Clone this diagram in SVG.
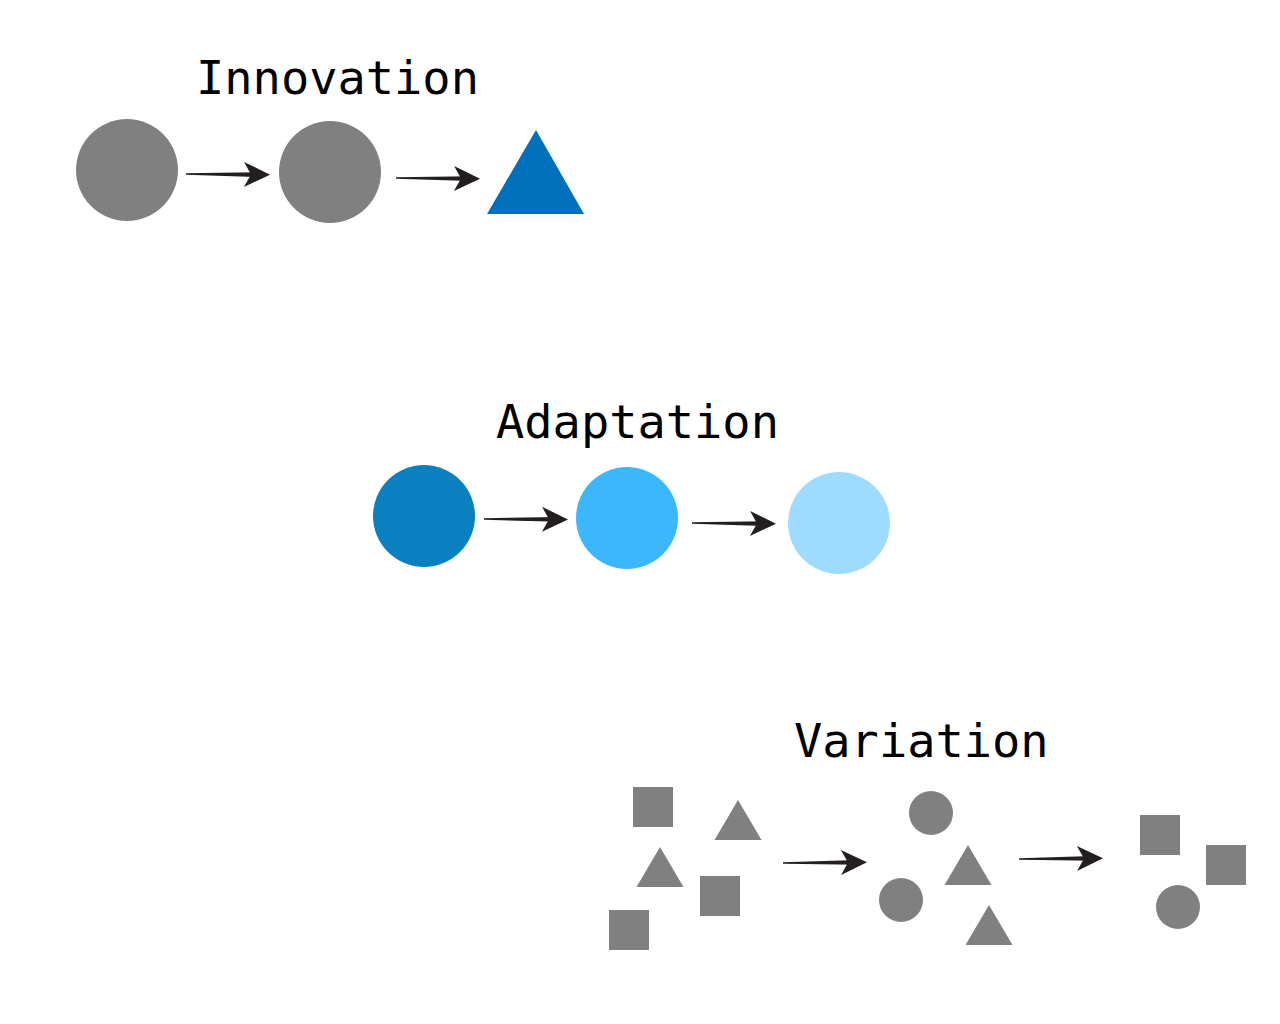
<svg xmlns="http://www.w3.org/2000/svg" xmlns:xlink="http://www.w3.org/1999/xlink" width="1280" height="1024" viewBox="0 0 1280 1024">
<style>
.label{font-family:"DejaVu Sans Mono","Liberation Mono",monospace;font-size:47px;fill:#000}
.g{fill:#808080}
.arr{fill:#231f20}
</style>
<defs>
<g id="arrow" class="arr">
<path d="M0,-0.7 L74,-2.4 L74,2.4 L0,0.7 Z"/>
<path d="M84,0 L58,12.5 L65,0 L58,-12.5 Z"/>
</g>
<polygon id="tri" points="0,0 23.5,40 -23.5,40" class="g"/>
</defs>
<rect width="1280" height="1024" fill="#fff"/>

<g id="innovation">
<text class="label" x="196" y="94">Innovation</text>
<circle cx="127" cy="170" r="51" class="g"/>
<circle cx="330" cy="172" r="51" class="g"/>
<polygon points="536,130 584,214 487,214" fill="#0070bc"/>
</g>

<g id="adaptation">
<text class="label" x="496" y="438">Adaptation</text>
<circle cx="424" cy="516" r="51" fill="#0a80c0"/>
<circle cx="627" cy="518" r="51" fill="#3bb8fd"/>
<circle cx="839" cy="523" r="51" fill="#9fdbff"/>
</g>

<g id="variation">
<text class="label" x="794" y="757">Variation</text>
<g id="var-group1">
<rect x="633" y="787" width="40" height="40" class="g"/>
<use xlink:href="#tri" x="738" y="800"/>
<use xlink:href="#tri" x="660" y="847"/>
<rect x="700" y="876" width="40" height="40" class="g"/>
<rect x="609" y="910" width="40" height="40" class="g"/>
</g>
<g id="var-group2">
<circle cx="931" cy="813" r="22" class="g"/>
<use xlink:href="#tri" x="968" y="845"/>
<circle cx="901" cy="900" r="22" class="g"/>
<use xlink:href="#tri" x="989" y="905"/>
</g>
<g id="var-group3">
<rect x="1140" y="815" width="40" height="40" class="g"/>
<rect x="1206" y="845" width="40" height="40" class="g"/>
<circle cx="1178" cy="907" r="22" class="g"/>
</g>
</g>

<g id="connectors">
<use xlink:href="#arrow" transform="translate(186,174) rotate(0.5)"/>
<use xlink:href="#arrow" transform="translate(396,178) rotate(0.5)"/>
<use xlink:href="#arrow" transform="translate(484,519) rotate(0.3)"/>
<use xlink:href="#arrow" transform="translate(692,523) rotate(0.5)"/>
<use xlink:href="#arrow" transform="translate(783,863) rotate(-0.5)"/>
<use xlink:href="#arrow" transform="translate(1019,859) rotate(-0.5)"/>
</g>
</svg>
